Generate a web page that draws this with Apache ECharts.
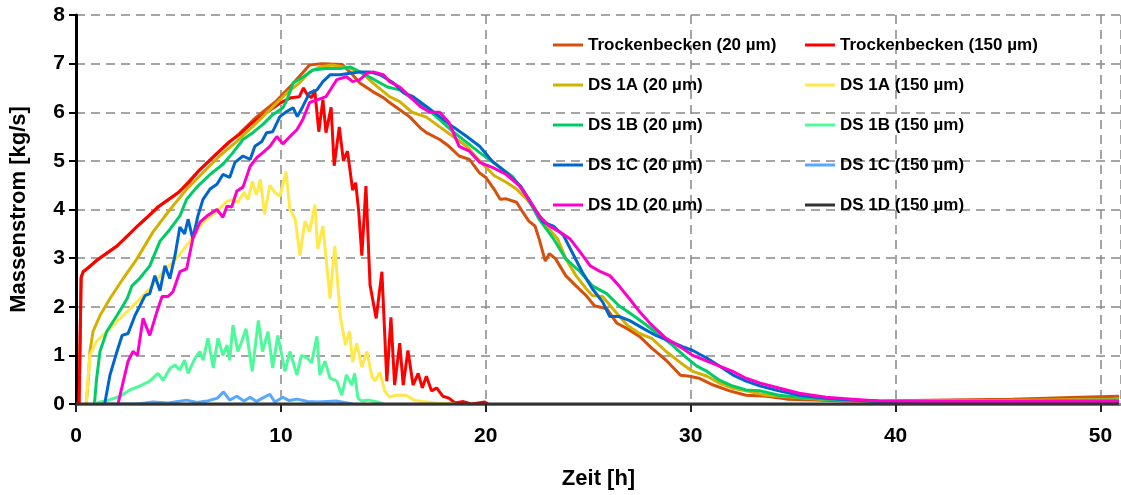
<!DOCTYPE html>
<html>
<head>
<meta charset="utf-8">
<script src="https://cdn.jsdelivr.net/npm/echarts@6/dist/echarts.min.js"></script>
<style>
html,body{margin:0;padding:0;background:#fff;}
#chart{width:1121px;height:495px;}
</style>
</head>
<body>
<div id="chart"></div>
<script>
// ---- data: [Zeit h, Massenstrom kg/s] ----
const seriesNames = [
  'Trockenbecken (20 µm)', 'Trockenbecken (150 µm)',
  'DS 1A (20 µm)', 'DS 1A (150 µm)',
  'DS 1B (20 µm)', 'DS 1B (150 µm)',
  'DS 1C (20 µm)', 'DS 1C (150 µm)',
  'DS 1D (20 µm)', 'DS 1D (150 µm)'
];
const xTicks = [0, 10, 20, 30, 40, 50];
const yTicks = [0, 1, 2, 3, 4, 5, 6, 7, 8];

const tro20 = [[0,0],[0.15,0],[0.25,2.6],[0.35,2.72],[1,2.95],[2,3.25],[3,3.66],[4,4.05],[5,4.35],[6,4.8],[7,5.2],[8,5.57],[8.8,5.9],[9.8,6.24],[10.5,6.55],[11.4,6.97],[12,7.0],[13,6.98],[13.5,6.77],[13.85,6.6],[14.5,6.42],[15,6.3],[15.3,6.2],[15.8,6.05],[16.3,5.9],[16.8,5.68],[17.1,5.58],[17.75,5.44],[18.2,5.3],[18.7,5.1],[19.2,5.03],[19.7,4.75],[20.0,4.66],[20.4,4.42],[20.7,4.21],[21.0,4.22],[21.5,4.15],[21.8,3.95],[22.1,3.76],[22.4,3.66],[22.6,3.4],[22.9,2.94],[23.1,3.09],[23.4,2.99],[23.9,2.64],[24.4,2.43],[24.9,2.23],[25.3,2.02],[25.9,1.96],[26.4,1.66],[26.9,1.55],[27.5,1.39],[28.1,1.15],[28.8,0.9],[29.5,0.59],[29.95,0.57],[30.4,0.53],[31.1,0.39],[31.9,0.27],[32.7,0.18],[33.7,0.16],[34.7,0.1],[36,0.08],[37.6,0.06],[39.2,0.06],[42.5,0.08],[45.7,0.1],[49,0.14],[50.9,0.16]];

const tro150 = [[0,0],[0.15,0],[0.25,2.6],[0.35,2.72],[0.6,2.8],[1.0,2.95],[1.5,3.1],[2.0,3.25],[2.5,3.45],[3.0,3.66],[3.5,3.85],[4.0,4.05],[4.5,4.2],[5.0,4.35],[5.5,4.55],[6.0,4.8],[6.5,5.0],[7.0,5.2],[7.5,5.4],[8.0,5.55],[8.5,5.75],[9.0,5.9],[9.5,6.05],[10.0,6.2],[10.5,6.3],[10.9,6.32],[11.1,6.5],[11.3,6.35],[11.5,6.3],[11.65,6.46],[11.85,5.6],[12.05,6.26],[12.2,5.58],[12.45,6.1],[12.6,4.9],[12.85,5.7],[13.05,5.0],[13.25,5.2],[13.5,4.4],[13.65,4.55],[13.8,3.95],[13.95,3.05],[14.15,4.48],[14.35,2.45],[14.65,1.76],[14.93,2.72],[15.17,0.47],[15.37,1.78],[15.55,0.39],[15.8,1.25],[15.97,0.39],[16.2,1.1],[16.45,0.39],[16.7,0.63],[16.9,0.33],[17.1,0.57],[17.35,0.27],[17.6,0.33],[17.9,0.16],[18.2,0.12],[18.5,0.02],[18.9,0.05],[19.3,0.0],[19.95,0.04],[20.1,0]];

const dsA20 = [[0.5,0],[0.6,0.5],[0.68,1.08],[0.83,1.49],[1.17,1.82],[1.66,2.17],[2.3,2.58],[2.98,2.99],[3.76,3.54],[4.59,4.0],[5.4,4.42],[6.2,4.76],[7.0,5.1],[7.85,5.4],[8.6,5.7],[9.46,6.05],[10.3,6.4],[10.9,6.6],[11.4,6.83],[11.9,6.93],[12.5,6.97],[13.4,6.9],[14.0,6.8],[14.5,6.6],[15.3,6.32],[15.8,6.22],[16.4,6.0],[17.1,5.9],[17.75,5.7],[18.4,5.5],[19.07,5.3],[19.7,5.0],[20.4,4.7],[21.0,4.56],[21.5,4.42],[22.0,4.21],[22.5,3.95],[23.0,3.64],[23.5,3.4],[23.9,2.99],[24.4,2.64],[24.9,2.37],[25.2,2.23],[25.7,2.21],[26.2,1.96],[26.9,1.62],[27.5,1.45],[28.1,1.35],[28.8,1.08],[29.5,0.85],[30.1,0.67],[30.8,0.57],[31.4,0.43],[32.0,0.33],[32.7,0.27],[33.7,0.18],[35.0,0.14],[36.3,0.1],[37.6,0.08],[39.2,0.06],[45,0.07],[50.9,0.1]];

const dsA150 = [[0.5,0],[0.6,0.6],[0.68,1.0],[1.0,1.29],[1.66,1.55],[2.3,1.82],[2.98,2.1],[3.6,2.37],[4.25,2.72],[4.9,2.99],[5.56,3.35],[6.2,3.74],[6.9,3.97],[7.37,4.17],[7.66,4.2],[7.9,4.15],[8.2,4.35],[8.4,4.2],[8.6,4.58],[8.8,4.3],[9.0,4.62],[9.2,3.9],[9.46,4.5],[9.7,4.35],[9.95,4.27],[10.25,4.78],[10.44,4.0],[10.7,3.8],[10.93,3.05],[11.17,3.76],[11.4,3.54],[11.66,4.1],[11.8,3.19],[12.05,3.66],[12.4,2.17],[12.63,3.25],[12.9,1.8],[13.15,1.21],[13.35,1.5],[13.5,0.86],[13.7,1.25],[13.95,0.76],[14.2,1.08],[14.45,0.55],[14.6,0.47],[14.83,0.65],[15.07,0.27],[15.3,0.14],[15.6,0.18],[16.1,0.18],[16.5,0.08],[16.9,0.05],[17.6,0.02],[18.5,0]];

const dsB20 = [[0.9,0],[1.0,0.5],[1.17,1.08],[1.5,1.49],[2.0,1.82],[2.5,2.17],[2.73,2.43],[3.1,2.58],[3.6,2.84],[4.1,3.35],[4.6,3.6],[5.07,3.87],[5.4,4.21],[5.9,4.46],[6.54,4.72],[7.17,4.93],[7.66,5.17],[8.15,5.44],[8.63,5.58],[9.12,5.75],[9.6,5.95],[10.1,6.09],[10.3,6.26],[10.6,6.6],[11.1,6.73],[11.56,6.87],[12.2,6.9],[12.9,6.9],[13.4,6.93],[13.85,6.83],[14.3,6.73],[15.2,6.52],[15.8,6.46],[16.45,6.26],[17.1,6.09],[17.75,5.85],[18.4,5.6],[19.07,5.38],[19.7,5.17],[20.35,4.97],[21.3,4.68],[22.0,4.27],[22.6,3.8],[23.3,3.4],[23.9,2.99],[24.6,2.72],[25.2,2.43],[25.9,2.27],[26.5,2.02],[27.2,1.82],[27.85,1.62],[28.5,1.41],[29.1,1.21],[29.8,0.95],[30.3,0.78],[30.8,0.67],[31.4,0.49],[32.05,0.37],[32.7,0.29],[33.4,0.27],[34.3,0.18],[35.3,0.14],[36.6,0.1],[37.9,0.08],[39.2,0.05],[45,0.06],[50.9,0.08]];

const dsB150 = [[0.9,0],[1.17,0.04],[1.6,0.08],[2.15,0.16],[2.63,0.29],[3.12,0.37],[3.6,0.47],[4.0,0.63],[4.25,0.49],[4.6,0.74],[4.83,0.8],[5.07,0.7],[5.3,0.9],[5.47,0.63],[5.8,0.94],[6.05,1.08],[6.2,0.9],[6.44,1.35],[6.7,0.74],[6.93,1.35],[7.17,1.0],[7.37,1.21],[7.5,0.9],[7.66,1.62],[7.9,1.08],[8.1,1.3],[8.3,1.55],[8.45,1.1],[8.6,0.67],[8.9,1.72],[9.1,1.08],[9.37,1.49],[9.6,0.74],[9.85,1.41],[10.2,0.67],[10.44,1.08],[10.78,0.6],[11.0,1.0],[11.3,0.94],[11.5,0.85],[11.76,1.39],[11.9,0.6],[12.15,0.88],[12.4,0.53],[12.73,0.47],[12.97,0.18],[13.2,0.6],[13.46,0.39],[13.6,0.63],[13.76,0.12],[13.95,0.06],[14.3,0.08],[14.7,0.04],[15.0,0]];

const dsC20 = [[1.4,0],[1.66,0.6],[2.0,1.08],[2.25,1.41],[2.54,1.45],[2.88,1.82],[3.12,2.02],[3.37,2.23],[3.6,2.27],[3.85,2.64],[4.1,2.33],[4.34,2.84],[4.58,2.58],[4.83,3.05],[5.07,3.64],[5.3,3.5],[5.47,3.8],[5.7,3.4],[5.95,3.87],[6.2,4.21],[6.54,4.42],[6.88,4.52],[7.17,4.72],[7.5,4.66],[7.76,4.97],[8.15,5.1],[8.5,5.03],[8.73,5.3],[9.07,5.4],[9.3,5.58],[9.6,5.6],[9.95,5.91],[10.3,6.02],[10.6,6.09],[10.8,5.91],[11.07,6.12],[11.4,6.4],[11.76,6.46],[12.05,6.63],[12.4,6.77],[12.88,6.77],[13.37,6.8],[13.85,6.83],[14.34,6.83],[14.83,6.77],[15.0,6.73],[15.5,6.6],[16.0,6.4],[16.45,6.32],[17.1,6.12],[17.75,5.91],[18.4,5.7],[19.07,5.5],[19.7,5.3],[20.3,5.0],[21.0,4.76],[21.7,4.48],[22.3,4.07],[22.8,3.74],[23.3,3.66],[23.8,3.46],[24.2,3.13],[24.7,2.72],[25.2,2.37],[25.7,2.1],[26.05,1.8],[26.5,1.8],[27.0,1.72],[27.7,1.55],[28.3,1.41],[29.0,1.29],[29.6,1.18],[30.1,1.1],[30.8,0.94],[31.4,0.78],[32.05,0.6],[32.7,0.47],[33.4,0.37],[34.3,0.27],[35.3,0.18],[36.6,0.12],[37.9,0.08],[39.2,0.05],[45,0.04],[50.9,0.05]];

const dsC150 = [[1.5,0],[3.0,0.0],[3.76,0.04],[4.5,0.02],[5.4,0.08],[5.9,0.03],[6.4,0.06],[6.9,0.12],[7.2,0.25],[7.5,0.08],[7.85,0.16],[8.2,0.06],[8.5,0.14],[8.8,0.05],[9.1,0.12],[9.46,0.2],[9.7,0.04],[10.1,0.14],[10.4,0.07],[10.8,0.1],[11.3,0.05],[11.8,0.04],[12.7,0.06],[13.5,0.0]];

const dsD20 = [[2.05,0],[2.3,0.45],[2.54,0.88],[2.78,1.08],[3.0,1.0],[3.27,1.76],[3.6,1.41],[3.95,1.9],[4.2,2.21],[4.5,2.21],[4.73,2.31],[5.07,2.72],[5.4,2.78],[5.7,3.4],[6.05,3.74],[6.4,3.87],[6.88,4.0],[7.17,3.84],[7.37,4.07],[7.6,4.05],[7.85,4.38],[8.15,4.46],[8.5,4.89],[8.83,5.07],[9.12,5.17],[9.46,5.3],[9.8,5.5],[10.1,5.35],[10.44,5.5],[10.78,5.64],[11.07,5.85],[11.4,6.2],[11.8,6.26],[12.2,6.32],[12.5,6.52],[12.73,6.67],[13.2,6.73],[13.5,6.63],[13.85,6.67],[14.2,6.8],[14.5,6.83],[15.0,6.77],[15.3,6.63],[15.8,6.52],[16.3,6.32],[16.8,6.12],[17.27,6.0],[17.75,6.0],[18.2,5.79],[18.7,5.3],[19.2,5.2],[19.7,4.97],[20.35,4.86],[21.0,4.72],[21.66,4.48],[22.1,4.21],[22.6,3.87],[23.1,3.66],[23.6,3.54],[24.1,3.4],[24.6,3.13],[25.1,2.84],[25.6,2.72],[26.05,2.64],[26.5,2.43],[27.0,2.17],[27.5,1.9],[28.1,1.62],[28.8,1.35],[29.5,1.17],[30.1,1.0],[30.8,0.88],[31.4,0.78],[32.05,0.67],[32.7,0.53],[33.4,0.43],[34.3,0.33],[35.3,0.22],[36.6,0.14],[37.9,0.1],[39.2,0.06],[42,0.05],[50.9,0.05]];

const dsD150 = [[0,0],[50.9,0]];

const seriesData = [tro20, tro150, dsA20, dsA150, dsB20, dsB150, dsC20, dsC150, dsD20, dsD150];
const seriesColors = ['#D4500C','#FF0000','#D4B000','#FFE84C','#00CC66','#4DFA9A','#0066CC','#55AAFF','#FF00CC','#333333'];

const FONT = '"Liberation Sans", Arial, Helvetica, sans-serif';

const chart = echarts.init(document.getElementById('chart'), null, {renderer: 'canvas'});

const series = seriesNames.map((n, i) => ({
  name: n,
  type: 'line',
  data: seriesData[i],
  showSymbol: false,
  symbol: 'none',
  lineStyle: {width: 3, color: seriesColors[i]},
  itemStyle: {color: seriesColors[i]},
  emphasis: {disabled: true},
  z: 2 + i * 0.01
}));

const legendCommon = {
  orient: 'vertical',
  top: 30,
  icon: 'rect',
  itemWidth: 30,
  itemHeight: 3,
  itemGap: 20,
  selectedMode: false,
  textStyle: {fontFamily: FONT, fontSize: 17, fontWeight: 'bold', color: '#000', lineHeight: 20}
};

chart.setOption({
  animation: false,
  backgroundColor: '#fff',
  grid: {left: 76, right: 0, top: 15, bottom: 89, containLabel: false},
  legend: [
    Object.assign({}, legendCommon, {left: 548, data: [seriesNames[0], seriesNames[2], seriesNames[4], seriesNames[6], seriesNames[8]]}),
    Object.assign({}, legendCommon, {left: 800, data: [seriesNames[1], seriesNames[3], seriesNames[5], seriesNames[7], seriesNames[9]]})
  ],
  xAxis: [{
    type: 'value', min: xTicks[0], max: 51, interval: 10,
    name: 'Zeit [h]', nameLocation: 'middle', nameGap: 64,
    nameTextStyle: {fontFamily: FONT, fontSize: 22, fontWeight: 'bold', color: '#000'},
    axisLine: {show: true, onZero: false, lineStyle: {color: '#222', width: 3}},
    axisTick: {show: true, length: 8, lineStyle: {color: '#222', width: 2}},
    axisLabel: {fontFamily: FONT, fontSize: 21, fontWeight: 'bold', color: '#000', margin: 22, showMaxLabel: false,
      formatter: v => (xTicks.indexOf(v) >= 0 ? String(v) : '')},
    splitLine: {show: true, lineStyle: {color: '#888', width: 1.5, type: [9, 6]}}
  }, {
    type: 'value', position: 'top', min: 0, max: 51,
    axisLine: {show: true, lineStyle: {color: '#8a8a8a', width: 3}},
    axisTick: {show: false}, axisLabel: {show: false}, splitLine: {show: false}
  }],
  yAxis: {
    type: 'value', min: yTicks[0], max: yTicks[yTicks.length - 1], interval: 1,
    name: 'Massenstrom [kg/s]', nameLocation: 'middle', nameGap: 46,
    nameTextStyle: {fontFamily: FONT, fontSize: 22, fontWeight: 'bold', color: '#000'},
    axisLine: {show: true, lineStyle: {color: '#000', width: 3}},
    axisTick: {show: true, length: 7, lineStyle: {color: '#000', width: 2}},
    axisLabel: {fontFamily: FONT, fontSize: 21, fontWeight: 'bold', color: '#000', margin: 11},
    splitLine: {show: true, lineStyle: {color: '#888', width: 1.5, type: [9, 6]}}
  },
  series: series
});
</script>
</body>
</html>
